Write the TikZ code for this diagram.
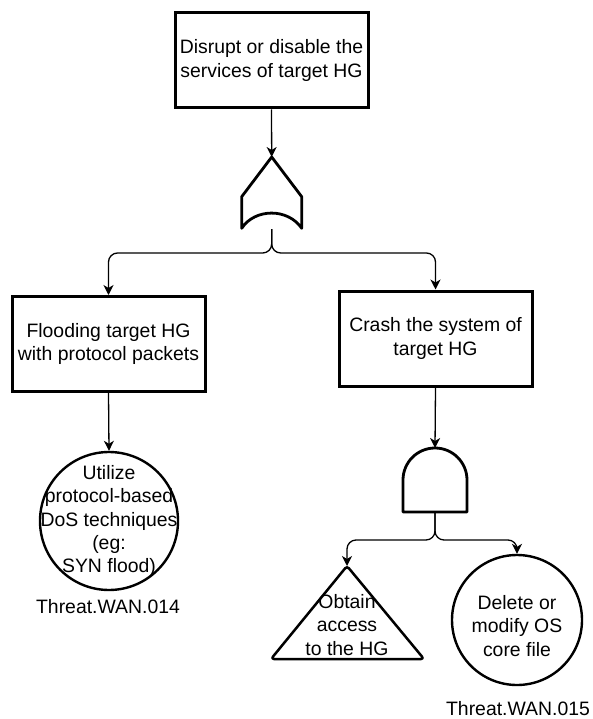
\documentclass[tikz,border=0pt]{standalone}
\usepackage{fontspec}
\setmainfont{Liberation Sans}
\usetikzlibrary{arrows.meta}
\begin{document}
\begin{tikzpicture}[x=1pt,y=-1pt,
  txt/.style={font=\fontsize{19.4}{23.3}\selectfont, align=center, inner sep=0pt},
  event/.style={draw, line width=3pt, rectangle, txt, minimum width=193pt, minimum height=95pt},
  basic/.style={draw, line width=2.4pt, circle, inner sep=0pt},
  gate/.style={draw, line width=2.8pt, line join=round},
  conn/.style={line width=1.3pt, -{Stealth[length=10pt,width=10pt,inset=3pt]}},
  label/.style={font=\fontsize{19.4}{23.3}\selectfont, inner sep=0pt}]
\useasboundingbox (0,0) rectangle (592,719);

% events
\node[event] (top)  at (271.5,60.5) {Disrupt or disable the\\services of target HG};
\node[event] (lbox) at (108.5,344)  {Flooding target HG\\with protocol packets};
\node[event] (rbox) at (435.5,338.5) {Crash the system of\\target HG};

% OR gate
\coordinate (orIn)  at (271.7,157);
\coordinate (orOut) at (271.7,229);
\draw[gate] (orIn) -- (301.7,196.7) -- (301.7,228.3)
  .. controls (288,208) and (255,208) .. (241.7,228.3)
  -- (241.7,196.7) -- cycle;

% AND gate
\coordinate (andIn)  at (435,448);
\coordinate (andOut) at (435,512);
\draw[gate] (403,512) -- (403,480) arc[start angle=180, end angle=360, radius=32] -- (467,512) -- cycle;

% basic events
\node[basic, minimum size=138pt] (c1) at (109,521) {};
\node[txt] (c1t) at (c1) {Utilize\\protocol-based\\DoS techniques\\(eg:\\SYN flood)};
\node[label] (id1) at (108,607) {Threat.WAN.014};

\node[basic, minimum size=130pt] (c2) at (517,620) {};
\node[txt] (c2t) at (517,626) {Delete or\\modify OS\\core file};
\node[label] (id2) at (518,709) {Threat.WAN.015};

% undeveloped event
\coordinate (triTop) at (347,566);
\draw[gate, line width=2.5pt, rounded corners=3pt] (triTop) -- (424,659) -- (271,659) -- cycle;
\node[txt] (tri) at (347,625) {Obtain\\access\\to the HG};

% connectors
\draw[conn] (top.south) -- (orIn);
\draw[conn, rounded corners=9pt] (orOut) -- ++(0,24) -| (lbox.north);
\draw[conn, rounded corners=9pt] (orOut) -- ++(0,24) -| (rbox.north);
\draw[conn] (lbox.south) -- (c1.north);
\draw[conn] (rbox.south) -- (andIn);
\draw[conn, rounded corners=9pt] (andOut) -- ++(0,28) -| (triTop);
\draw[conn, rounded corners=9pt] (andOut) -- ++(0,28) -| (c2.north);
\end{tikzpicture}
\end{document}
